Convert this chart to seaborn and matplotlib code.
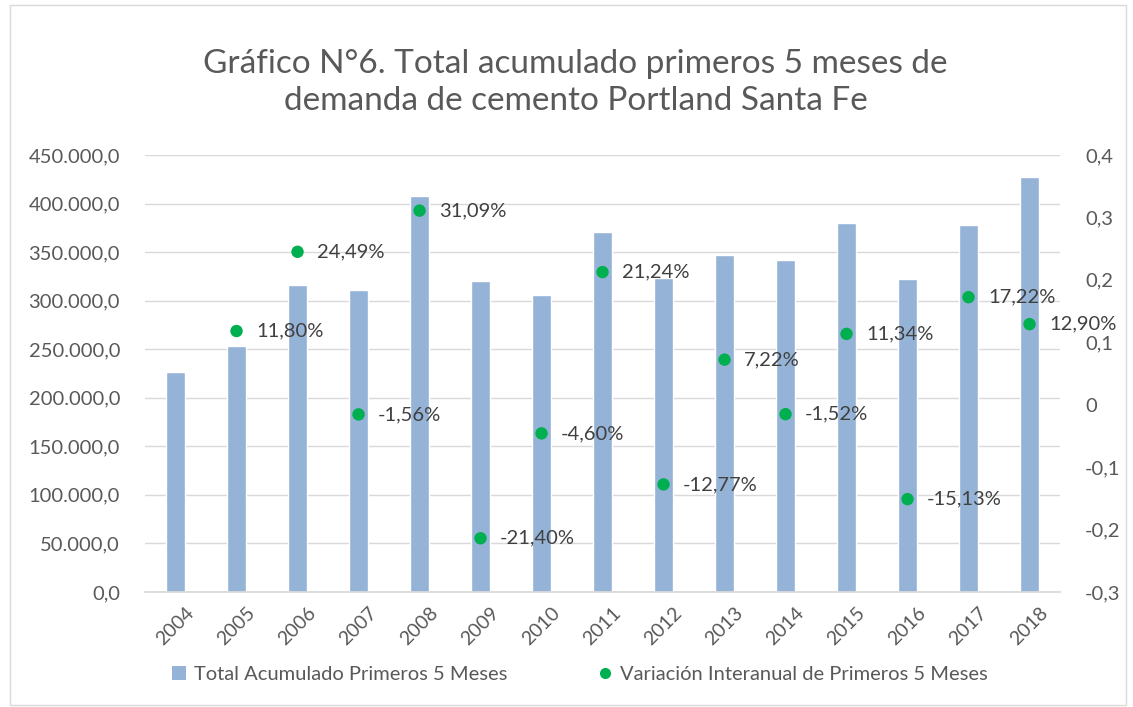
import numpy as np
import pandas as pd
import matplotlib
matplotlib.use("Agg")
import matplotlib.pyplot as plt
import matplotlib.ticker as mticker
from matplotlib.patches import Patch, Rectangle
from matplotlib.lines import Line2D
import seaborn as sns

years = [str(y) for y in range(2004, 2019)]
total = [227000, 253790, 315940, 311010, 407700, 320460, 305710, 370650,
         323320, 346660, 341390, 380100, 322590, 378140, 426930]
variacion = [np.nan, 0.1180, 0.2449, -0.0156, 0.3109, -0.2140, -0.0460, 0.2124,
             -0.1277, 0.0722, -0.0152, 0.1134, -0.1513, 0.1722, 0.1290]

df = pd.DataFrame({"year": years, "total": total, "var": variacion})
df["pos"] = np.arange(len(df))

sns.set_theme(style="white")
plt.rcParams["font.family"] = ["Lato", "DejaVu Sans"]

gray = "#595959"
bar_color = "#95B3D7"
dot_color = "#00B050"

fig = plt.figure(figsize=(11.33, 7.07), dpi=100)
ax = fig.add_axes([0.128, 0.1627, 0.8076, 0.6181])

sns.barplot(data=df, x="year", y="total", color=bar_color, width=0.3,
            saturation=1, ax=ax, zorder=2)
ax.set_xlim(-0.5, len(df) - 0.5)
ax.set_ylim(0, 450000)
ax.yaxis.set_major_locator(mticker.MultipleLocator(50000))
ax.yaxis.set_major_formatter(mticker.FuncFormatter(
    lambda v, p: f"{v:,.1f}".replace(",", "X").replace(".", ",").replace("X", ".")))
ax.grid(axis="y", color="#D9D9D9", lw=1, zorder=0)
ax.set_axisbelow(True)
for s in ["left", "right", "top"]:
    ax.spines[s].set_visible(False)
ax.spines["bottom"].set_color("#D9D9D9")
ax.set_xlabel("")
ax.set_ylabel("")
ax.tick_params(axis="y", length=0, pad=18, labelsize=14.5, labelcolor=gray)
ax.tick_params(axis="x", length=0, pad=9, labelsize=14, labelcolor=gray)
for lab in ax.get_xticklabels():
    lab.set_rotation(45)
    lab.set_ha("center")

ax2 = ax.twinx()
sns.scatterplot(data=df, x="pos", y="var", color=dot_color, s=80,
                edgecolor="none", ax=ax2, zorder=3)
ax2.set_ylim(-0.3, 0.4)
ax2.yaxis.set_major_locator(mticker.MultipleLocator(0.1))
ax2.yaxis.set_major_formatter(mticker.FuncFormatter(
    lambda v, p: f"{v:.1f}".replace(".", ",").replace("-0,0", "0").replace("0,0", "0")))
ax2.set_xlim(-0.5, len(df) - 0.5)
ax2.set_ylabel("")
ax2.tick_params(axis="y", length=0, pad=18, labelsize=14.5, labelcolor=gray)
for s in ax2.spines.values():
    s.set_visible(False)

for p, v in zip(df["pos"], df["var"]):
    if np.isnan(v):
        continue
    ax2.annotate(f"{v * 100:.2f}%".replace(".", ","), (p, v), xytext=(14, 0),
                 textcoords="offset points", va="center", ha="left",
                 fontsize=14.5, color="#404040", zorder=4)

fig.text(0.508, 0.883, "Gráfico N°6. Total acumulado primeros 5 meses de\n"
         "demanda de cemento Portland Santa Fe", ha="center", va="center",
         fontsize=24, color=gray, linespacing=1.3)

handles = [Patch(facecolor=bar_color, edgecolor="none"),
           Line2D([], [], marker="o", color="none", markerfacecolor=dot_color,
                  markeredgecolor="none", markersize=8)]
fig.legend(handles, ["Total Acumulado Primeros 5 Meses",
                     "Variación Interanual de Primeros 5 Meses"],
           loc="center", bbox_to_anchor=(0.512, 0.046), ncol=2, frameon=False,
           fontsize=14.5, labelcolor=gray, handlelength=0.7, handleheight=0.7,
           handletextpad=0.4, columnspacing=4.5)

fig.patches.append(Rectangle((0.009, 0.003), 0.985, 0.99, transform=fig.transFigure,
                             fill=False, edgecolor="#D9D9D9", lw=1))

fig.savefig("out.png", dpi=100)
